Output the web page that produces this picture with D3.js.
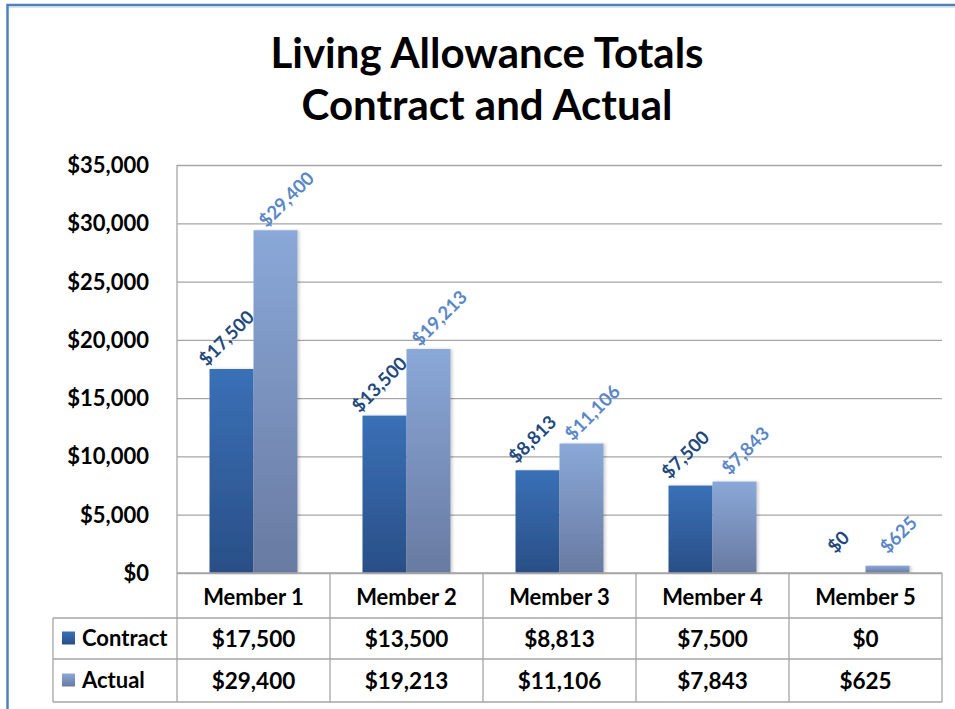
<!DOCTYPE html>
<html><head><meta charset="utf-8">
<script src="https://cdn.jsdelivr.net/npm/d3@7"></script>
<style>html,body{margin:0;padding:0;background:#fff;}svg{display:block;}</style>
</head><body>
<svg id="chart" width="955" height="709"></svg>
<script>
const titleLines = ["Living Allowance Totals", "Contract and Actual"];
const categories = ["Member 1", "Member 2", "Member 3", "Member 4", "Member 5"];
const seriesNames = ["Contract", "Actual"];
const contractValues = [17500, 13500, 8813, 7500, 0];
const actualValues = [29400, 19213, 11106, 7843, 625];
const yTicks = [0, 5000, 10000, 15000, 20000, 25000, 30000, 35000];

(function () {
const font = "Lato, 'Open Sans', sans-serif";
const svg = d3.select("#chart");
const defs = svg.append("defs");
const money = v => "$" + d3.format(",")(v);

function grad(id, c1, c2) {
  const g = defs.append("linearGradient").attr("id", id).attr("x1", 0).attr("y1", 0).attr("x2", 0).attr("y2", 1);
  g.append("stop").attr("offset", "0%").attr("stop-color", c1);
  g.append("stop").attr("offset", "100%").attr("stop-color", c2);
}
grad("gContract", "#3a70b7", "#294f86");
grad("gActual", "#8aa8d8", "#687aa1");
const f = defs.append("filter").attr("id", "shadow").attr("x", "-20%").attr("y", "-5%").attr("width", "150%").attr("height", "110%");
f.append("feDropShadow").attr("dx", 2).attr("dy", 0).attr("stdDeviation", 1.5).attr("flood-color", "#000").attr("flood-opacity", 0.18);

// outer frame
svg.append("rect").attr("x", 7.5).attr("y", 5).attr("width", 980).attr("height", 740)
  .attr("fill", "none").attr("stroke", "#4f81bd").attr("stroke-width", 2.5);
svg.append("line").attr("x1", 9).attr("x2", 955).attr("y1", 7).attr("y2", 7).attr("stroke", "#b9cde8").attr("stroke-width", 1);

// title
svg.append("g").selectAll("text").data(titleLines).join("text")
  .attr("x", 487).attr("y", (d, i) => 68 + i * 52)
  .attr("text-anchor", "middle").attr("font-family", font).attr("font-weight", "bold")
  .attr("font-size", 42).attr("fill", "#000").text(d => d);

const pL = 177, pR = 942, pT = 165, pB = 573;
const x = d3.scaleBand().domain(categories).range([pL, pR]).paddingInner(0).paddingOuter(0);
const y = d3.scaleLinear().domain([0, 35000]).range([pB, pT]);

// gridlines
svg.append("g").attr("transform", `translate(${pL},0)`)
  .call(d3.axisLeft(y).tickValues(yTicks).tickSize(-(pR - pL)).tickFormat(""))
  .call(g => g.select(".domain").remove())
  .call(g => g.selectAll("line").attr("stroke", "#a6a6a6").attr("stroke-width", 1.3));
svg.append("line").attr("x1", pL).attr("x2", pL).attr("y1", pT).attr("y2", pB)
  .attr("stroke", "#a6a6a6").attr("stroke-width", 1.3);

// y tick labels
svg.append("g").selectAll("text").data(yTicks).join("text")
  .attr("x", 149).attr("y", d => y(d) + 8).attr("text-anchor", "end")
  .attr("font-family", font).attr("font-weight", "bold").attr("font-size", 22)
  .text(money);

const data = categories.map((c, i) => ({cat: c, vals: [contractValues[i], actualValues[i]]}));
const fills = ["url(#gContract)", "url(#gActual)"];
const labelColors = ["#1f497d", "#5a87c6"];

const barW = 44;
const groups = svg.append("g").selectAll("g").data(data).join("g");
groups.each(function(d) {
  const g = d3.select(this);
  const cx = x(d.cat) + x.bandwidth() / 2;
  d.vals.forEach((v, si) => {
    const bx = cx - barW + si * barW;
    if (v > 0) {
      g.append("rect").attr("x", bx).attr("y", y(v)).attr("width", barW).attr("height", y(0) - y(v))
        .attr("fill", fills[si]).attr("filter", "url(#shadow)");
    }
  });
  d.vals.forEach((v, si) => {
    const bcx = cx - barW / 2 + si * barW;
    const lx = bcx + (si === 0 ? -5 : 11);
    const ly = y(v) - 31;
    g.append("text").attr("transform", `translate(${lx},${ly}) rotate(-45)`)
      .attr("text-anchor", "middle").attr("dy", "0.35em")
      .attr("font-family", font).attr("font-weight", "bold").attr("font-size", 18.5)
      .attr("fill", labelColors[si]).text(money(v));
  });
});

// data table
const rowH = [573, 618, 659, 702];
const tableLeft = 53;
const grid = svg.append("g").attr("stroke", "#a6a6a6").attr("stroke-width", 1.3);
grid.append("line").attr("x1", pL).attr("x2", pR).attr("y1", rowH[0]).attr("y2", rowH[0]);
[1, 2, 3].forEach(i => grid.append("line").attr("x1", tableLeft).attr("x2", pR).attr("y1", rowH[i]).attr("y2", rowH[i]));
grid.append("line").attr("x1", tableLeft).attr("x2", tableLeft).attr("y1", rowH[1]).attr("y2", rowH[3]);
categories.forEach(c => grid.append("line").attr("x1", x(c)).attr("x2", x(c)).attr("y1", rowH[0]).attr("y2", rowH[3]));
grid.append("line").attr("x1", pR).attr("x2", pR).attr("y1", rowH[0]).attr("y2", rowH[3]);

svg.append("g").selectAll("text").data(categories).join("text")
  .attr("x", c => x(c) + x.bandwidth() / 2).attr("y", (rowH[0] + rowH[1]) / 2 + 9)
  .attr("text-anchor", "middle").attr("font-family", font).attr("font-weight", "bold").attr("font-size", 22)
  .text(c => c);

const rows = [contractValues, actualValues];
rows.forEach((vals, ri) => {
  const cy = (rowH[ri + 1] + rowH[ri + 2]) / 2;
  svg.append("g").selectAll("text").data(vals).join("text")
    .attr("x", (v, i) => x(categories[i]) + x.bandwidth() / 2).attr("y", cy + 8.5)
    .attr("text-anchor", "middle").attr("font-family", font).attr("font-weight", "bold").attr("font-size", 22.5)
    .text(money);
  svg.append("rect").attr("x", 62).attr("y", cy - 7).attr("width", 13).attr("height", 13)
    .attr("fill", fills[ri]);
  svg.append("text").attr("x", 82).attr("y", cy + 7).attr("font-family", font).attr("font-weight", "bold")
    .attr("font-size", 22).text(seriesNames[ri]);
});
})();
</script>
</body></html>
